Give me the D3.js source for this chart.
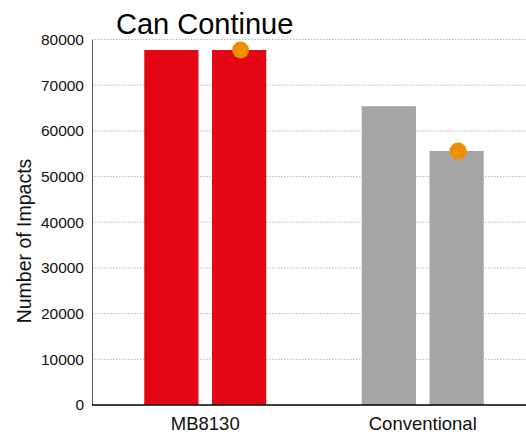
<!DOCTYPE html>
<html><head><meta charset="utf-8">
<script src="https://cdn.jsdelivr.net/npm/d3@7"></script>
<style>body{margin:0;background:#fff}svg{display:block}text{font-family:"Liberation Sans",Arial,sans-serif}</style>
</head><body>
<script>
const categories = ["MB8130", "Conventional"];
const series1 = [77700, 65400];
const series2 = [77700, 55600];
const dots = [77700, 55600];
const yTicks = [0, 10000, 20000, 30000, 40000, 50000, 60000, 70000, 80000];
const title = "Can Continue";
const yLabel = "Number of Impacts";
const barColors = ["#e30613", "#a5a5a5"];

const W = 526, H = 435;
const svg = d3.select("body").append("svg").attr("width", W).attr("height", H);
const mLeft = 92, mRight = 526, mTop = 39.5, mBottom = 405;

const y = d3.scaleLinear().domain([0, 80000]).range([mBottom, mTop]);
const x = d3.scaleBand().domain(categories).range([96.5, 531.5]);
const inner = d3.scaleBand().domain([0, 1]).range([0, 122]).paddingInner(0.2);

// gridlines
svg.append("g").selectAll("line").data(yTicks.filter(d => d > 0)).join("line")
  .attr("x1", mLeft).attr("x2", mRight)
  .attr("y1", d => y(d)).attr("y2", d => y(d))
  .attr("stroke", "#b8b8b8").attr("stroke-width", 1).attr("stroke-dasharray", "1.5,1.5");

// y axis
const yAxis = d3.axisLeft(y).tickValues(yTicks).tickSize(0).tickPadding(8).tickFormat(d3.format("d"));
const ga = svg.append("g").attr("transform", `translate(${mLeft},0)`).call(yAxis);
ga.select(".domain").attr("stroke", "#555");
ga.selectAll("text").attr("font-size", "15.5px").attr("fill", "#111").attr("font-family", "Liberation Sans, Arial, sans-serif");

// bars
const groups = svg.append("g").selectAll("g").data(categories).join("g")
  .attr("transform", d => `translate(${x(d) + x.bandwidth()/2 - 61},0)`);
groups.each(function(c, i) {
  const g = d3.select(this);
  [series1[i], series2[i]].forEach((v, j) => {
    g.append("rect")
      .attr("x", inner(j)).attr("width", inner.bandwidth())
      .attr("y", y(v)).attr("height", y(0) - y(v))
      .attr("fill", barColors[i]);
  });
  g.append("circle")
    .attr("cx", inner(1) + inner.bandwidth()/2 + 1.5)
    .attr("cy", y(dots[i])).attr("r", 8.5)
    .attr("fill", "#ee8f00");
});

// x axis baseline
svg.append("line").attr("x1", mLeft).attr("x2", mRight).attr("y1", mBottom).attr("y2", mBottom)
  .attr("stroke", "#000").attr("stroke-width", 1.5);

// x labels
svg.append("g").selectAll("text").data(categories).join("text")
  .attr("x", d => x(d) + x.bandwidth()/2).attr("y", 430)
  .attr("text-anchor", "middle").attr("font-size", "18.5px").attr("fill", "#111")
  .text(d => d);

// y label
svg.append("text").attr("transform", "translate(31,241) rotate(-90)")
  .attr("text-anchor", "middle").attr("font-size", "19.5px").attr("fill", "#111")
  .text(yLabel);

// title
svg.append("text").attr("x", 116).attr("y", 33.5).attr("font-size", "29px").attr("fill", "#000")
  .text(title);
</script>
</body></html>
